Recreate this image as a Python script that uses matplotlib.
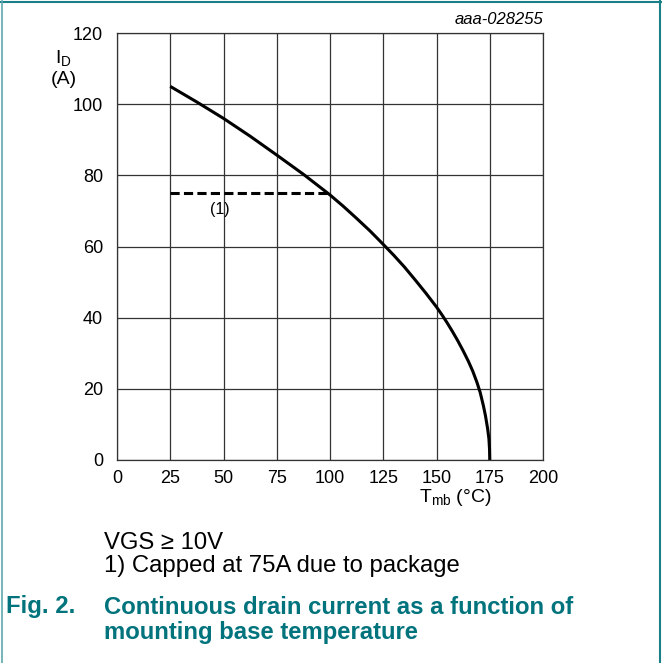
import matplotlib
matplotlib.use("Agg")
import matplotlib.pyplot as plt
from matplotlib.lines import Line2D

plt.rcParams['font.family'] = ['Liberation Sans', 'DejaVu Sans']
plt.rcParams['mathtext.fontset'] = 'custom'
plt.rcParams['mathtext.rm'] = 'Liberation Sans'
plt.rcParams['mathtext.it'] = 'Liberation Sans:italic'

# Data
temp = [25, 37.5, 50, 62.5, 75, 87.5, 100, 106.25, 112.5, 118.75, 125, 130,
        135, 140, 145, 150, 152.5, 155, 157.5, 160, 162.5, 165, 167, 169,
        170.5, 172, 173, 174, 174.6, 174.9, 175]
current = [105, 100.6, 96, 91, 85.7, 80.3, 74.5, 71.3, 67.9, 64.4, 60.6, 57.5,
           54.2, 50.6, 46.9, 43, 40.85, 38.55, 36.1, 33.5, 30.7, 27.7, 25.0, 21.8,
           19.0, 15.3, 12.4, 8.8, 6.0, 3.0, 0]
cap_temp = [25, 100]
cap_current = [75, 75]
x_ticks = [0, 25, 50, 75, 100, 125, 150, 175, 200]
y_ticks = [0, 20, 40, 60, 80, 100, 120]

W, H = 662, 663
fig = plt.figure(figsize=(W / 100, H / 100), dpi=100)
ax = fig.add_axes([117 / W, 1 - 460 / H, (543 - 117) / W, (460 - 33) / H])

ax.plot(temp, current, color='black', lw=2.2, solid_capstyle='butt',
        solid_joinstyle='round')
ax.plot(cap_temp, cap_current, color='black', lw=2.2, linestyle=(0, (3, 1.4)))

ax.set_xlim(0, 200)
ax.set_ylim(0, 120)
ax.set_xticks(x_ticks)
ax.set_yticks(y_ticks)
ax.tick_params(length=0, labelsize=13, colors='black')
ax.tick_params(axis='y', pad=10)
ax.tick_params(axis='x', pad=7)
ax.grid(True, color='#333333', lw=0.9)
for s in ax.spines.values():
    s.set_linewidth(0.9)
    s.set_color('#333333')

ax.text(48.5, 70.5, '(1)', fontsize=11.5, ha='center', va='center')

fig.text(543 / W, 1 - 20 / H, 'aaa-028255', fontsize=12, style='italic',
         ha='right', va='center')
fig.text(63 / W, 1 - 58 / H, r'I$_{\rm D}$', fontsize=14, ha='center', va='center')
fig.text(64 / W, 1 - 80 / H, '(A)', fontsize=14, ha='center', va='center')
fig.text(455 / W, 1 - 497 / H, r'T$_{\rm mb}$ (°C)', fontsize=14, ha='center', va='center')

fig.text(104 / W, 1 - 543 / H, 'VGS ≥ 10V', fontsize=17.2, ha='left', va='center')
fig.text(104 / W, 1 - 566 / H, '1) Capped at 75A due to package', fontsize=17.2,
         ha='left', va='center')

teal = '#00737C'
fig.text(6 / W, 1 - 607 / H, 'Fig. 2.', fontsize=17.2, fontweight='bold', color=teal,
         ha='left', va='center')
fig.text(104 / W, 1 - 607 / H, 'Continuous drain current as a function of',
         fontsize=17.2, fontweight='bold', color=teal, ha='left', va='center')
fig.text(104 / W, 1 - 633 / H, 'mounting base temperature',
         fontsize=17.2, fontweight='bold', color=teal, ha='left', va='center')

# Figure border (top, left, right)
fig.add_artist(Line2D([1 / W, 660.5 / W], [1 - 1.5 / H, 1 - 1.5 / H],
                      transform=fig.transFigure, color='#1a7f86', lw=1.5))
fig.add_artist(Line2D([1.5 / W, 1.5 / W], [0, 1 - 1 / H],
                      transform=fig.transFigure, color='#5fa8ad', lw=1.2))
fig.add_artist(Line2D([660 / W, 660 / W], [0, 1 - 1 / H],
                      transform=fig.transFigure, color='#1a7f86', lw=1.5))

fig.savefig('out.png', dpi=100)
